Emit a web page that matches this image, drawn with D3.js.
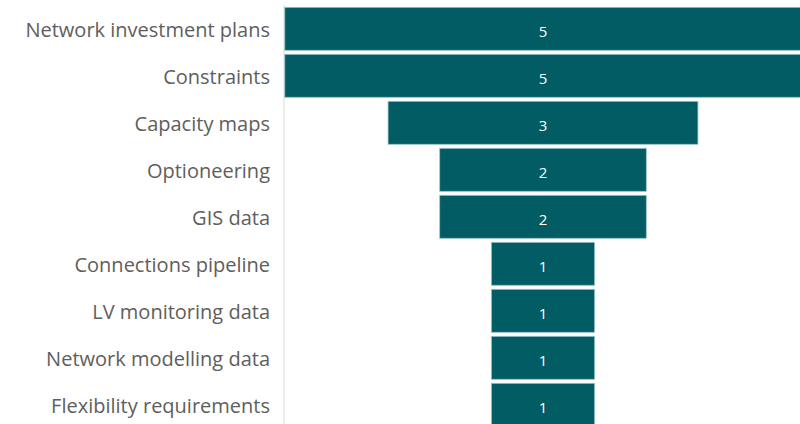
<!DOCTYPE html>
<html><head><meta charset="utf-8">
<script src="https://cdn.jsdelivr.net/npm/d3@7"></script>
<style>body{margin:0;background:#fff;overflow:hidden}</style>
</head><body>
<svg id="c" width="800" height="424"></svg>
<script>
const categories = ["Network investment plans","Constraints","Capacity maps","Optioneering","GIS data","Connections pipeline","LV monitoring data","Network modelling data","Flexibility requirements"];
const values = [5,5,3,2,2,1,1,1,1];

const svg = d3.select("#c");
const center = 543;
const w = d3.scaleLinear().domain([0,5]).range([0,516.5]);
const y = d3.scaleBand().domain(categories).range([5.3, 5.3+47*9]).paddingInner(4/47).paddingOuter(2/47);

svg.append("line").attr("x1",284).attr("x2",284).attr("y1",5).attr("y2",424)
  .attr("stroke","#e6e6e6").attr("stroke-width",1.5);

const g = svg.append("g");
g.selectAll("rect").data(values).join("rect")
  .attr("x",(d)=>center - w(d)/2)
  .attr("y",(d,i)=>y(categories[i]))
  .attr("width",d=>w(d))
  .attr("height",y.bandwidth())
  .attr("fill","#025c63")
  .attr("stroke","#9cc5c8").attr("stroke-width",0.8);

g.selectAll("text.v").data(values).join("text").attr("class","v")
  .attr("x",center).attr("y",(d,i)=>y(categories[i])+y.bandwidth()/2+2.5)
  .attr("dy","0.35em").attr("text-anchor","middle")
  .attr("fill","#fff").attr("font-family","'Open Sans', sans-serif").attr("font-size",15)
  .text(d=>d);

svg.selectAll("text.l").data(categories).join("text").attr("class","l")
  .attr("x",270).attr("y",d=>y(d)+y.bandwidth()/2+1.5)
  .attr("dy","0.35em").attr("text-anchor","end")
  .attr("fill","#605e5c").attr("font-family","'Open Sans', sans-serif").attr("font-size",20)
  .text(d=>d);
</script>
</body></html>
